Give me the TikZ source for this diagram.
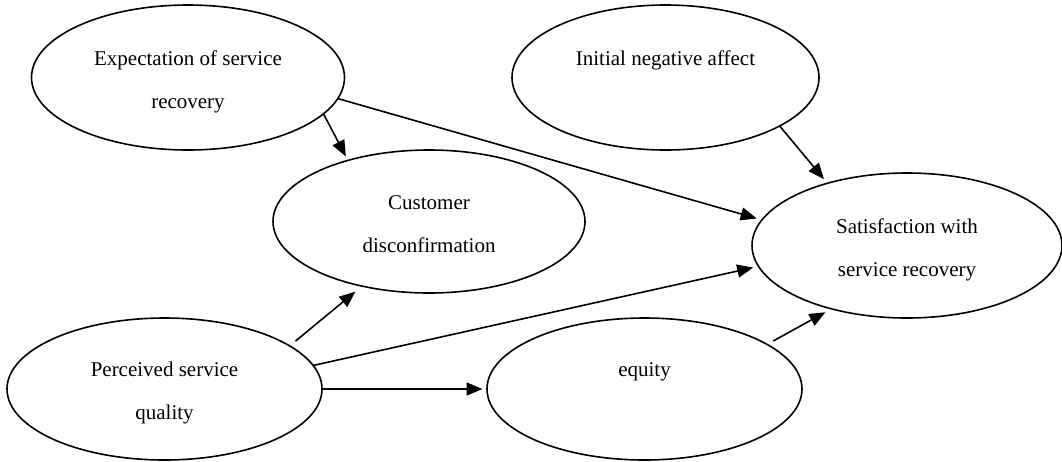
\documentclass[tikz,border=0pt]{standalone}
\usepackage{fontspec}
\setmainfont{Liberation Serif}
\usetikzlibrary{shapes.geometric,arrows.meta}
\begin{document}
\begin{tikzpicture}[x=1pt,y=-1pt,
  construct/.style={ellipse, draw, line width=1.6pt, inner sep=0pt, outer sep=0pt,
    align=center, font=\fontsize{21pt}{43pt}\selectfont},
  % two-line labels: the box's reference point is the last baseline
  twoline/.style={text height=66pt, text depth=5pt},
  % one-line labels sit where the first of two lines would be
  oneline/.style={text height=15pt, text depth=40pt},
  link/.style={-{Triangle[length=16pt,width=13pt]}, line width=1.6pt}]
\useasboundingbox (0,0) rectangle (1062,461);

% constructs of the model
\node[construct, twoline, minimum width=313pt, minimum height=145pt] (exp) at (188,77.5)
  {Expectation of service\\recovery};
\node[construct, oneline, minimum width=307pt, minimum height=145pt] (ini) at (665.5,77.5)
  {Initial negative affect};
\node[construct, twoline, minimum width=312pt, minimum height=143pt] (cus) at (429,221.5)
  {Customer\\disconfirmation};
\node[construct, twoline, minimum width=310pt, minimum height=145pt] (sat) at (907,245.5)
  {Satisfaction with\\service recovery};
\node[construct, twoline, minimum width=315pt, minimum height=142pt] (per) at (164.5,389)
  {Perceived service\\quality};
\node[construct, oneline, minimum width=315pt, minimum height=142pt] (equ) at (644.5,389)
  {equity};

% hypothesised paths
\draw[link, shorten >=4.5pt] (exp.-15.1) -- (cus.143.6);
\draw[link, shorten >=5.5pt] (exp.-8.7) -- (sat.170.2);
\draw[link, shorten >=5.4pt] (ini.-23.1) -- (sat.142.1);
\draw[link, shorten <=7.5pt, shorten >=8.8pt] (per.19.3) -- (cus.-136.4);
\draw[link, shorten >=5.5pt] (per.9.8) -- (sat.-172.1);
\draw[link, shorten >=4.5pt] (per.0) -- (equ.180);
\draw[link, shorten <=7pt, shorten >=7pt] (equ.20.6) -- (sat.-140.5);
\end{tikzpicture}
\end{document}
